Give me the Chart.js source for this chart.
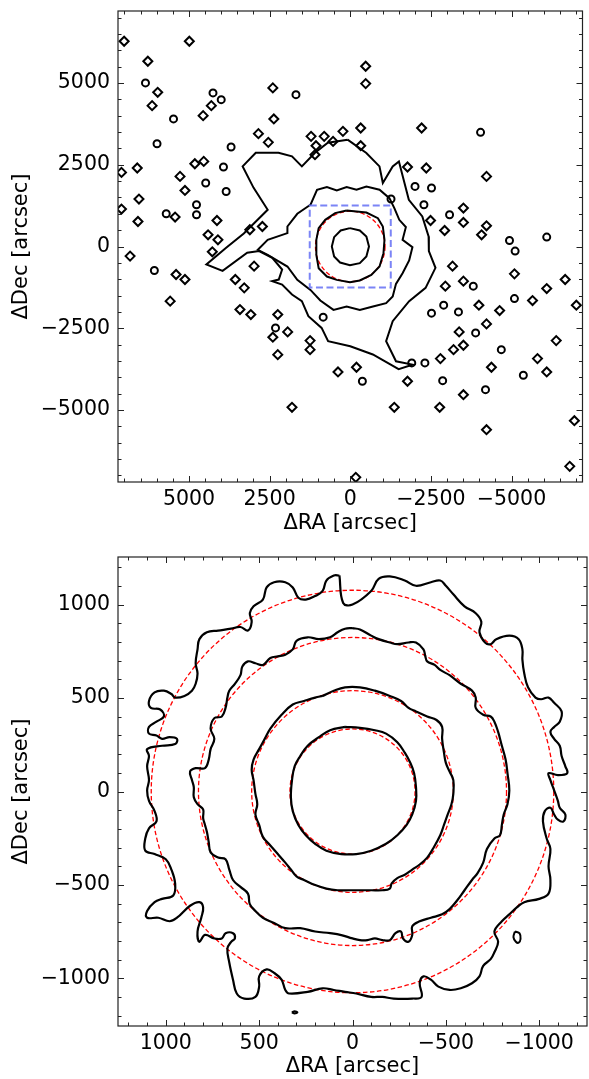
<!DOCTYPE html>
<html>
<head>
<meta charset="utf-8">
<script src="https://cdn.jsdelivr.net/npm/chart.js@4.4.1/dist/chart.umd.min.js"></script>
<style>
  html, body { margin: 0; padding: 0; background: #fff; }
  #wrap { position: relative; width: 589px; height: 1079px; }
  canvas { position: absolute; left: 0; }
</style>
</head>
<body>
<div id="wrap">
  <canvas id="wide" width="589" height="540" style="top:0"></canvas>
  <canvas id="zoom" width="589" height="539" style="top:540px"></canvas>
</div>
<script>
// ---- tick labels ----
const wideTicks = [-5000, -2500, 0, 2500, 5000];
const zoomTicks = [-1000, -500, 0, 500, 1000];

// radii of the red dashed fit circles, half size of the blue box
const fitRadii = [335, 540, 825, 1078];
const wideFitRadii = [1078];
const boxHalf = 1256;

// ---- top panel: contours ----
const coreX = [10, -296, -500, -581, -500, -296, 10, 316, 500, 571, 500, 296];
const coreY = [561, 490, 306, 0, -306, -510, -571, -490, -306, 0, 286, 490];

const ringX = [112, -194, -500, -857, -1010, -1061, -1030, -908, -653, -296, 10, 418, 724, 979, 1051, 1051, 979, 775, 469];
const ringY = [1102, 1071, 1040, 867, 612, 204, -204, -612, -867, -1040, -1091, -1020, -918, -663, -255, 204, 561, 816, 1020];

const midX = [1234, 1030, 724, 418, 112, -194, -500, -908, -1214, -1367, -1520, -1724, -1622, -1928, -1826, -1622, -1418, -1316, -1112, -704, -296, 112, 520, 928, 1234, 1642, 1948, 2560, 2866, 2560, 1948, 1948, 1642];
const midY = [1275, 1734, 1816, 1714, 1816, 1734, 1836, 1734, 1479, 1173, 816, 592, 204, -20, -428, -816, -1142, -1530, -1734, -1836, -1938, -1836, -1938, -1652, -1326, -1020, -612, -255, -102, 204, 408, 612, 1000];

const outerX = [83, -499, -906, -1010, -1316, -1509, -1816, -2234, -2429, -2437, -2642, -2336, -1826, -1316, -1112, -1418, -1929, -1500, -700, 0, 686, 888, 1298, 1500, 1806, 2112, 2418, 2216, 2112, 2418, 2828, 3195, 3958, 4460, 3847, 3300, 2560, 3000, 3336, 2929, 2225, 1806, 1500, 1093, 695];
const outerY = [3266, 2859, 2449, 1940, 2449, 2602, 1429, 918, 306, -141, -652, -1264, -1672, -2285, -2897, -3510, -3612, -3750, -3300, -3050, -2896, -2488, -2130, -1671, -1469, -1163, -1059, -1010, -704, -346, -141, -193, -744, -551, -40, 400, 1124, 1800, 2449, 2868, 2868, 2755, 2449, 2868, 3174];

// small isolated contours (diamond-like and oval-like)
const diamondX = [7010, 4989, 6275, 5969, 6143, 4307, 4561, 2400, 2369, 2847, 2541, 1215, 808, 227, 1062, 533, 1093, 6603, 7092, 4818, 4542, 5277, 5124, 6550, 7092, 6581, 5430, 4132, 4408, 4102, 3113, 2724,
  6826, 5400, 5124, 5583, 4276, 3563, 3287, 2981, 3419, 3082, 2247, 2400, 1940, 2247, 1246, 1246, 380, 1806,
  -3171, -5090, -6663, -3508, -2948, -6091, -5651, -3988, -4631, -7009, -4224, -3376, -6385, -3508, -3202, -5804, -4377, -6091, -2795, -193, -1775, -3508, -1365, -2773, -4224, -6948, -6804, -171,
  -478, -478, -324, -2213, -324, -1775, -2357, -4224, -3508, -3508, -4224, -4071, -2926, -2489];
const diamondY = [6275, 6275, 5663, 4714, 4307, 4307, 4001, 4849, 3900, 3450, 3184, 3367, 3367, 3520, 3082, 3214, 2807, 2400, 2265, 2531, 2602, 2143, 1714, 1451, 1145, 765, 900, 796, 358, 205, 511, 612,
  -294, -857, -1010, -1671, -162, -1010, -1264, -600, -1928, -2081, -2081, -2773, -2611, -3306, -2877, -3153, -3835, -4916,
  -600, -836, -1010, -1059, -1212, -1286, -1653, -1794, -1959, -1794, -2366, -2611, -2877, -3018, -3153, -3428, -3692, -3835, -3428, -3692, -4120, -4530, -4916, -4916, -5601, -5326, -6722, -7058,
  5510, 4980, 3624, 3624, 3082, 2430, 2400, 2143, 1175, 735, 633, 358, 490, 796];
const ovalX = [6348, 5479, 5990, 4255, 4000, 1683, 3694, 3930, 4481, 4766, 3847, 5705, 4766, 6073, 2317, 839, -5090, -3814, -2896, -3355, -2519, -3887, -4683, -5366, -2314, -1907, -376, -2865, -4193, -5111, -4040, -2008, -2519, -1264, -2284, -3079, -4937, -6091];
const ovalY = [5001, 3900, 3143, 4695, 4490, 4643, 3042, 2430, 1940, 1276, 1683, 1001, 970, -735, -2488, -2161, -1592, -1212, -1794, -1999, -2039, -2642, -3153, -3936, -3560, -3560, -4120, -4102, -4377, -141, 3490, 1837, 1788, 1451, 1276, 970, 184, 288];

// ---- bottom panel: contours ----
const innerX = [40, -40, -120, -180, -240, -280, -310, -330, -340, -340, -320, -290, -240, -180, -100, -20, 60, 140, 200, 250, 290, 320, 330, 324, 310, 280, 240, 180, 120];
const innerY = [346, 341, 328, 310, 264, 208, 153, 98, 24, -50, -123, -179, -234, -280, -317, -335, -335, -317, -280, -234, -179, -105, -31, 61, 135, 190, 245, 291, 328];

const secondX = [160, 100, 40, -40, -120, -200, -260, -300, -340, -400, -450, -480, -480, -490, -500, -520, -540, -540, -530, -510, -490, -470, -430, -400, -360, -320, -280, -240, -210, -200, -160, -100, -40, 20, 80, 140, 200, 260, 300, 330, 360, 400, 440, 480, 500, 520, 510, 520, 530, 540, 530, 500, 470, 440, 380, 320, 260, 200];
const secondY = [512, 540, 558, 558, 540, 512, 485, 448, 429, 402, 383, 346, 282, 208, 153, 107, 61, -13, -68, -123, -179, -234, -308, -354, -391, -418, -446, -464, -492, -520, -529, -529, -529, -529, -529, -520, -501, -474, -455, -418, -381, -335, -289, -243, -179, -123, -68, -13, 61, 116, 171, 227, 282, 337, 411, 466, 485, 503];

const thirdX = [0, -40, -100, -140, -200, -240, -300, -340, -380, -390, -400, -440, -470, -520, -580, -640, -660, -660, -700, -740, -760, -780, -800, -820, -830, -840, -830, -810, -800, -790, -760, -720, -700, -670, -640, -600, -560, -520, -480, -420, -360, -320, -320, -300, -270, -260, -230, -200, -160, -120, -80, -40, 0, 60, 120, 200, 280, 360, 420, 480, 520, 550, 560, 600, 640, 660, 680, 720, 760, 770, 780, 790, 800, 800, 830, 850, 850, 860, 870, 840, 790, 770, 760, 740, 760, 740, 700, 680, 670, 660, 630, 600, 590, 560, 520, 480, 440, 400, 360, 320, 300, 240, 180, 120, 80, 40];
const thirdY = [875, 868, 835, 816, 798, 789, 798, 798, 761, 724, 697, 678, 651, 623, 577, 540, 503, 448, 411, 402, 374, 319, 245, 171, 98, 6, -68, -123, -179, -234, -252, -308, -381, -437, -474, -529, -584, -630, -658, -676, -695, -722, -769, -805, -787, -750, -759, -796, -796, -787, -796, -796, -787, -769, -759, -750, -732, -732, -704, -676, -640, -603, -547, -511, -474, -418, -363, -354, -326, -271, -216, -179, -142, -96, -68, -31, 24, 61, 107, 125, 125, 171, 227, 282, 337, 393, 402, 448, 503, 540, 577, 623, 669, 697, 687, 678, 715, 724, 733, 761, 807, 826, 816, 826, 853, 872];

const outX = [70, 50, 0, -100, -140, -200, -280, -340, -420, -470, -500, -540, -600, -660, -690, -680, -710, -740, -770, -840, -890, -910, -910, -920, -940, -980, -1010, -1050, -1080, -1120, -1110, -1080, -1060, -1080, -1110, -1120, -1140, -1150, -1100, -1050, -1060, -1080, -1100, -1110, -1140, -1130, -1100, -1080, -1060, -1030, -1020, -1040, -1060, -1050, -1060, -1050, -1000, -920, -880, -840, -800, -760, -780, -760, -740, -700, -680, -640, -580, -520, -460, -420, -380, -360, -370, -320, -220, -160, -100, -20, 40, 100, 160, 240, 340, 360, 380, 420, 460, 500, 500, 520, 580, 620, 640, 660, 670, 650, 630, 640, 680, 700, 740, 790, 820, 830, 810, 800, 820, 870, 940, 980, 1040, 1100, 1100, 1060, 1020, 960, 950, 970, 1000, 1060, 1110, 1110, 1090, 1050, 1060, 1090, 1100, 1090, 1100, 1090, 1100, 1020, 950, 940, 980, 1020, 1050, 1090, 1090, 1050, 1010, 1030, 1080, 1090, 1060, 1010, 970, 950, 900, 860, 840, 830, 840, 830, 820, 780, 720, 650, 600, 560, 540, 550, 530, 480, 460, 420, 360, 320, 290, 250, 200, 160, 140, 100];
const outY = [1157, 1010, 1001, 1074, 1139, 1152, 1130, 1102, 1121, 1130, 1102, 1056, 992, 955, 909, 853, 798, 789, 816, 835, 816, 761, 706, 632, 558, 503, 494, 503, 475, 429, 374, 346, 319, 282, 245, 190, 135, 98, 88, 98, 61, 6, -50, -87, -123, -160, -151, -123, -87, -105, -160, -252, -308, -400, -474, -547, -575, -593, -621, -658, -695, -750, -805, -861, -898, -934, -990, -1027, -1054, -1063, -1045, -1008, -990, -1027, -1100, -1109, -1109, -1100, -1100, -1082, -1073, -1063, -1054, -1073, -1082, -1063, -1008, -971, -953, -990, -1045, -1100, -1109, -1082, -1008, -916, -842, -805, -787, -759, -759, -787, -787, -768, -805, -750, -676, -621, -593, -612, -676, -695, -676, -676, -640, -593, -575, -557, -492, -418, -363, -335, -317, -252, -197, -160, -105, -50, 6, 61, 135, 190, 227, 245, 254, 282, 291, 282, 300, 310, 346, 374, 402, 439, 448, 485, 531, 540, 522, 503, 512, 540, 577, 632, 687, 761, 816, 853, 862, 872, 881, 862, 909, 955, 992, 1028, 1093, 1121, 1121, 1093, 1038, 1028, 1047, 1074, 1130, 1157];

const speckX = [-870, -895, -900, -890, -875, -862];
const speckY = [-750, -760, -790, -810, -805, -780];
const dotX = [325, 310, 295, 310];
const dotY = [-1183, -1177, -1183, -1189];

// ---- helpers ----
const TICK_FONT = { family: 'DejaVu Sans', size: 20.5 };
const TITLE_FONT = { family: 'DejaVu Sans', size: 21 };
Chart.defaults.color = '#000';

function loop(xs, ys) {
  const pts = xs.map((x, i) => ({ x: x, y: ys[i] }));
  pts.push(pts[0]);
  return pts;
}
function pts(xs, ys) {
  return xs.map((x, i) => ({ x: x, y: ys[i] }));
}
const fmt = v => (v < 0 ? '\u2212' + Math.abs(v) : String(v));

function contour(xs, ys, tension, width) {
  return {
    data: loop(xs, ys), showLine: true, pointRadius: 0, borderColor: '#000',
    borderWidth: width || 2, tension: tension, fill: false
  };
}

function axes(lim, ticks, xHeight, xPad, yPad) {
  return {
    x: {
      type: 'linear', min: -lim[0], max: lim[1], reverse: true,
      grid: { display: false, drawTicks: false }, border: { display: false },
      ticks: { font: TICK_FONT, color: '#000', padding: xPad, maxRotation: 0, autoSkip: false, callback: fmt },
      afterBuildTicks: s => { s.ticks = ticks.map(v => ({ value: v })); },
      afterFit: s => { s.height = xHeight; s.paddingLeft = 0; s.paddingRight = 0; },
      title: { display: true, text: '\u0394RA [arcsec]', font: TITLE_FONT, color: '#000', padding: { top: 0, bottom: yPad[1] } }
    },
    y: {
      type: 'linear', min: lim[2], max: lim[3],
      grid: { display: false, drawTicks: false }, border: { display: false },
      ticks: { font: TICK_FONT, color: '#000', padding: 8, autoSkip: false, callback: fmt },
      afterBuildTicks: s => { s.ticks = ticks.map(v => ({ value: v })); },
      afterFit: s => { s.width = 118; s.paddingTop = 0; s.paddingBottom = 0; },
      title: { display: true, text: '\u0394Dec [arcsec]', font: TITLE_FONT, color: '#000', padding: { top: yPad[0], bottom: 0 } }
    }
  };
}

// frame + inward major/minor ticks on all sides
function frameTicks(major, minor) {
  return {
    id: 'frameTicks',
    afterDraw(chart) {
      const { ctx, chartArea: a, scales: { x, y } } = chart;
      ctx.save();
      ctx.strokeStyle = '#222';
      ctx.lineWidth = 1.2;
      ctx.strokeRect(a.left, a.top, a.right - a.left, a.bottom - a.top);
      ctx.lineWidth = 1;
      ctx.beginPath();
      for (let v = Math.ceil(x.min / minor) * minor; v <= x.max; v += minor) {
        const len = v % major === 0 ? 6 : 3.5;
        const px = Math.round(x.getPixelForValue(v)) + 0.5;
        ctx.moveTo(px, a.bottom); ctx.lineTo(px, a.bottom - len);
        ctx.moveTo(px, a.top); ctx.lineTo(px, a.top + len);
      }
      for (let v = Math.ceil(y.min / minor) * minor; v <= y.max; v += minor) {
        const len = v % major === 0 ? 6 : 3.5;
        const py = Math.round(y.getPixelForValue(v)) + 0.5;
        ctx.moveTo(a.left, py); ctx.lineTo(a.left + len, py);
        ctx.moveTo(a.right, py); ctx.lineTo(a.right - len, py);
      }
      ctx.stroke();
      ctx.restore();
    }
  };
}

// red dashed fit circles (under the contours)
function fitCircles(radii) {
  return {
    id: 'fitCircles',
    beforeDatasetsDraw(chart) {
      const { ctx, chartArea: a, scales: { x, y } } = chart;
      const cx = x.getPixelForValue(0), cy = y.getPixelForValue(0);
      ctx.save();
      ctx.beginPath(); ctx.rect(a.left, a.top, a.right - a.left, a.bottom - a.top); ctx.clip();
      ctx.strokeStyle = '#ff0000';
      ctx.lineWidth = 1.3;
      ctx.setLineDash([4.5, 2.5]);
      radii.forEach(r => {
        const rx = Math.abs(x.getPixelForValue(r) - cx), ry = Math.abs(y.getPixelForValue(r) - cy);
        ctx.beginPath(); ctx.ellipse(cx, cy, rx, ry, 0, 0, Math.PI * 2); ctx.stroke();
      });
      ctx.restore();
    }
  };
}

// blue dashed box marking the zoomed region
const zoomBox = {
  id: 'zoomBox',
  afterDatasetsDraw(chart) {
    const { ctx, scales: { x, y } } = chart;
    const x0 = x.getPixelForValue(boxHalf), x1 = x.getPixelForValue(-boxHalf);
    const y0 = y.getPixelForValue(boxHalf), y1 = y.getPixelForValue(-boxHalf);
    ctx.save();
    ctx.strokeStyle = 'rgba(100, 110, 245, 0.85)';
    ctx.lineWidth = 2;
    ctx.setLineDash([7, 3.5]);
    ctx.strokeRect(x0, y0, x1 - x0, y1 - y0);
    ctx.restore();
  }
};

const common = {
  responsive: false, animation: false, devicePixelRatio: 1,
  plugins: { legend: { display: false }, tooltip: { enabled: false } }
};

// ---- top: wide field ----
new Chart(document.getElementById('wide'), {
  type: 'scatter',
  data: {
    datasets: [
      contour(coreX, coreY, 0),
      contour(ringX, ringY, 0),
      contour(midX, midY, 0),
      contour(outerX, outerY, 0),
      { data: pts(diamondX, diamondY), showLine: false, pointStyle: 'rectRot', pointRadius: 4.5,
        borderColor: '#000', borderWidth: 2, backgroundColor: 'rgba(0,0,0,0)' },
      { data: pts(ovalX, ovalY), showLine: false, pointStyle: 'circle', pointRadius: 3.5,
        borderColor: '#000', borderWidth: 2, backgroundColor: 'rgba(0,0,0,0)' }
    ]
  },
  options: Object.assign({}, common, {
    layout: { padding: { top: 11, right: 2, left: 0, bottom: 0 } },
    scales: axes([7200, 7200, -7200, 7200], wideTicks, 58, 5, [9, 4])
  }),
  plugins: [fitCircles(wideFitRadii), zoomBox, frameTicks(2500, 500)]
});

// ---- bottom: zoom on the core ----
new Chart(document.getElementById('zoom'), {
  type: 'scatter',
  data: {
    datasets: [
      contour(innerX, innerY, 0.4, 2.2),
      contour(secondX, secondY, 0.4, 2.2),
      contour(thirdX, thirdY, 0.4, 2.2),
      contour(outX, outY, 0.4, 2.2),
      contour(speckX, speckY, 0.4, 2),
      contour(dotX, dotY, 0.4, 2)
    ]
  },
  options: Object.assign({}, common, {
    layout: { padding: { top: 17, right: 2, left: 0, bottom: 0 } },
    scales: axes([1256, 1256, -1256, 1256], zoomTicks, 53, 5, [9, 0])
  }),
  plugins: [fitCircles(fitRadii), frameTicks(500, 100)]
});
</script>
</body>
</html>
